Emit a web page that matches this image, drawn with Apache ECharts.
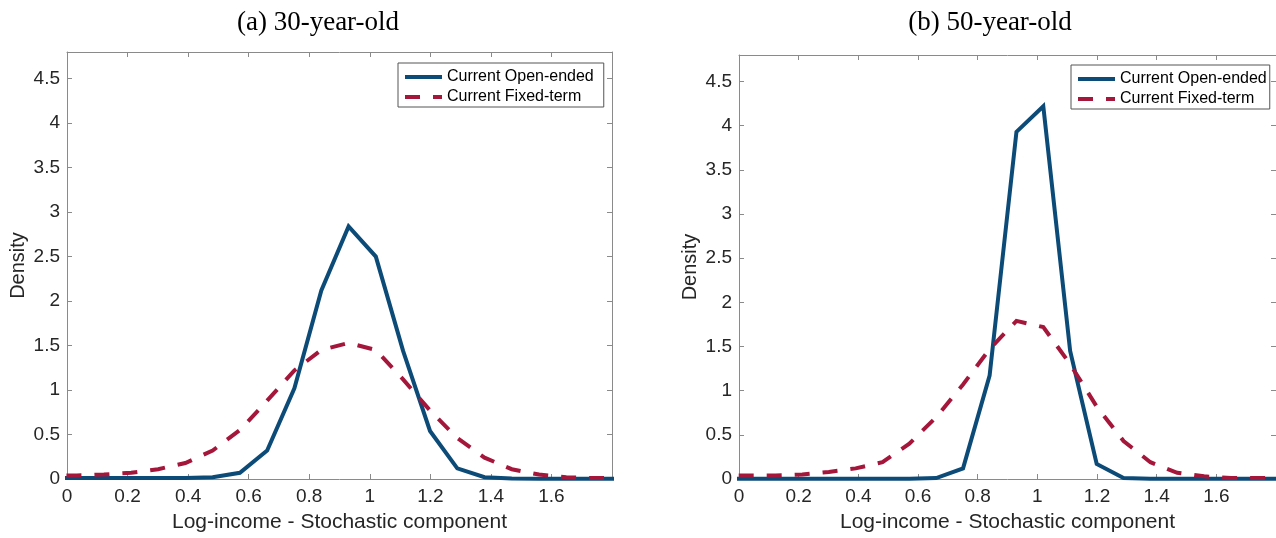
<!DOCTYPE html>
<html>
<head>
<meta charset="utf-8">
<script src="https://cdn.jsdelivr.net/npm/echarts@6/dist/echarts.min.js"></script>
<style>
  html, body { margin: 0; padding: 0; background: #fff; }
  #chart { width: 1276px; height: 538px; }
</style>
</head>
<body>
<div id="chart"></div>
<script>
// Evaluation grid of log-income (stochastic component)
const incomeGrid = [-0.058, 0.032, 0.122, 0.212, 0.301, 0.391, 0.481, 0.571, 0.661, 0.751, 0.840,
                    0.930, 1.020, 1.110, 1.199, 1.289, 1.379, 1.469, 1.559, 1.649, 1.738, 1.828];

// Densities, 30-year-old workers
const openEnded30 = [0.01, 0.01, 0.01, 0.01, 0.01, 0.012, 0.02, 0.07, 0.32, 1.02, 2.12,
                     2.84, 2.50, 1.44, 0.54, 0.12, 0.02, 0.005, 0.004, 0.003, 0.003, 0.003];
const fixedTerm30 = [0.04, 0.04, 0.05, 0.07, 0.11, 0.18, 0.32, 0.55, 0.88, 1.22, 1.45,
                     1.53, 1.45, 1.12, 0.77, 0.46, 0.24, 0.11, 0.05, 0.02, 0.01, 0.01];

// Densities, 50-year-old workers
const openEnded50 = [0.003, 0.003, 0.003, 0.003, 0.003, 0.003, 0.003, 0.003, 0.01, 0.12, 1.17,
                     3.93, 4.22, 1.45, 0.17, 0.01, 0.003, 0.003, 0.003, 0.003, 0.003, 0.003];
const fixedTerm50 = [0.04, 0.04, 0.04, 0.05, 0.08, 0.12, 0.19, 0.40, 0.70, 1.07, 1.47,
                     1.79, 1.72, 1.30, 0.82, 0.43, 0.19, 0.07, 0.03, 0.01, 0.01, 0.01];

const panelTitles = ['(a) 30-year-old', '(b) 50-year-old'];
const seriesNames = ['Current Open-ended', 'Current Fixed-term'];
const xAxisName = 'Log-income - Stochastic component';
const yAxisName = 'Density';

const BLUE = '#0c4b78';
const RED = '#a5163b';
const AXIS = '#8a8a8a';
const INK = '#262626';
const SANS = 'Liberation Sans, Arial, sans-serif';
const LINE_W = 4;
const DASH = [15, 13];

const pairs = (xs, ys) => xs.map((x, i) => [x, ys[i]]);
const fmt = v => String(+v.toFixed(1));

function bottomX(g) {
  return {
    type: 'value', gridIndex: g, position: 'bottom', min: 0, max: 1.8, interval: 0.2,
    axisLine: { show: true, onZero: false, lineStyle: { color: AXIS, width: 1 } },
    axisTick: { show: true, inside: true, length: 5, lineStyle: { color: AXIS } },
    axisLabel: { color: INK, fontSize: 19, fontFamily: SANS, margin: 8, showMaxLabel: false, formatter: fmt },
    splitLine: { show: false },
    name: xAxisName, nameLocation: 'middle', nameGap: 33,
    nameTextStyle: { color: INK, fontSize: 21, fontFamily: SANS }
  };
}
function topX(g) {
  return {
    type: 'value', gridIndex: g, position: 'top', min: 0, max: 1.8, interval: 0.2,
    axisLine: { show: true, onZero: false, lineStyle: { color: AXIS, width: 1 } },
    axisTick: { show: true, inside: true, length: 5, lineStyle: { color: AXIS } },
    axisLabel: { show: false }, splitLine: { show: false }
  };
}
function leftY(g) {
  return {
    type: 'value', gridIndex: g, position: 'left', min: 0, max: 4.8, interval: 0.5,
    axisLine: { show: true, onZero: false, lineStyle: { color: AXIS, width: 1 } },
    axisTick: { show: true, inside: true, length: 5, lineStyle: { color: AXIS } },
    axisLabel: { color: INK, fontSize: 19, fontFamily: SANS, margin: 7, showMaxLabel: false, formatter: fmt },
    splitLine: { show: false },
    name: yAxisName, nameLocation: 'middle', nameGap: 39, nameRotate: 90,
    nameTextStyle: { color: INK, fontSize: 20, fontFamily: SANS }
  };
}
function rightY(g) {
  return {
    type: 'value', gridIndex: g, position: 'right', min: 0, max: 4.8, interval: 0.5,
    axisLine: { show: true, onZero: false, lineStyle: { color: AXIS, width: 1 } },
    axisTick: { show: true, inside: true, length: 5, lineStyle: { color: AXIS } },
    axisLabel: { show: false }, splitLine: { show: false }
  };
}
function legendAt(left, top, padRight) {
  return {
    orient: 'vertical', left: left, top: top,
    itemWidth: 37, itemHeight: 16, itemGap: 4,
    padding: [6, padRight, 2, 5],
    borderColor: '#555', borderWidth: 1, borderRadius: 0, backgroundColor: '#fff',
    textStyle: { color: '#000', fontSize: 16, fontFamily: SANS },
    itemStyle: { opacity: 0, borderWidth: 0 },
    lineStyle: { width: LINE_W, opacity: 1 },
    data: [
      { name: seriesNames[0], lineStyle: { type: 'solid', width: LINE_W } },
      { name: seriesNames[1], lineStyle: { type: DASH, width: LINE_W, cap: 'butt', dashOffset: 0 } }
    ]
  };
}
function lineSeries(name, g, ys, color, dashed) {
  return {
    name: name, type: 'line', xAxisIndex: g * 2, yAxisIndex: g * 2,
    data: pairs(incomeGrid, ys), symbol: 'none', clip: true, z: dashed ? 3 : 2,
    lineStyle: {
      color: color, width: LINE_W, type: dashed ? DASH : 'solid',
      dashOffset: dashed ? 11 : 0, cap: 'butt', join: 'miter'
    },
    itemStyle: { color: color },
    animation: false
  };
}

const titleStyle = { fontFamily: 'Liberation Serif, serif', fontSize: 27, fontWeight: 'normal', color: '#000' };

const chart = echarts.init(document.getElementById('chart'), null, { renderer: 'canvas' });
chart.setOption({
  backgroundColor: '#fff',
  animation: false,
  title: [
    { text: panelTitles[0], left: 313, top: 4, textAlign: 'center', textStyle: titleStyle },
    { text: panelTitles[1], left: 985, top: 4, textAlign: 'center', textStyle: titleStyle }
  ],
  grid: [
    { left: 67, top: 52, width: 545, height: 431 },
    { left: 739, top: 55, width: 544, height: 431 }
  ],
  xAxis: [bottomX(0), topX(0), bottomX(1), topX(1)],
  yAxis: [leftY(0), rightY(0), leftY(1), rightY(1)],
  legend: [legendAt(398, 63, 10), legendAt(1071, 65, 3)],
  series: [
    lineSeries(seriesNames[0], 0, openEnded30, BLUE, false),
    lineSeries(seriesNames[1], 0, fixedTerm30, RED, true),
    lineSeries(seriesNames[0], 1, openEnded50, BLUE, false),
    lineSeries(seriesNames[1], 1, fixedTerm50, RED, true)
  ]
});
</script>
</body>
</html>
